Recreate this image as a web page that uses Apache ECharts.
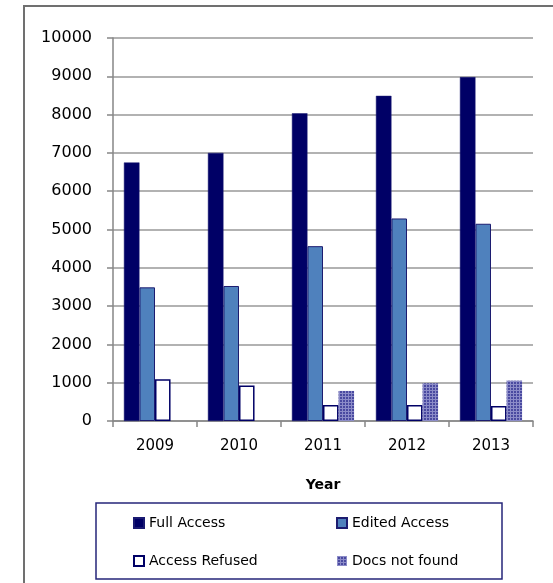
<!DOCTYPE html>
<html>
<head>
<meta charset="utf-8">
<style>
  html, body { margin: 0; padding: 0; background: #fff; }
  #chart { width: 553px; height: 583px; }
</style>
<script src="https://cdn.jsdelivr.net/npm/echarts@6/dist/echarts.min.js"></script>
</head>
<body>
<div id="chart"></div>
<script>
const years = ['2009', '2010', '2011', '2012', '2013'];
const fullAccess = [6750, 7000, 8035, 8490, 8980];
const editedAccess = [3490, 3525, 4565, 5288, 5150];
const accessRefused = [1090, 925, 420, 420, 390];
const docsNotFound = [null, null, 785, 985, 1055];
const yTicks = { min: 0, max: 10000, interval: 1000 };

// hatched pattern for "Docs not found"
const pc = document.createElement('canvas');
pc.width = 3; pc.height = 3;
const pctx = pc.getContext('2d');
pctx.fillStyle = '#4a4aa0';
pctx.fillRect(0, 0, 3, 3);
pctx.fillStyle = '#8c8cc8';
pctx.fillRect(0, 0, 3, 1);
pctx.fillRect(0, 0, 1, 3);

const chart = echarts.init(document.getElementById('chart'), null, { renderer: 'canvas' });
const FONT = 'DejaVu Sans';

chart.setOption({
  animation: false,
  backgroundColor: '#fff',
  textStyle: { fontFamily: FONT },
  grid: { left: 113, right: 20, top: 38, bottom: 162, containLabel: false },
  xAxis: {
    type: 'category',
    data: years,
    name: 'Year',
    nameLocation: 'middle',
    nameGap: 57,
    nameTextStyle: { fontFamily: FONT, fontSize: 14, fontWeight: 'bold', color: '#000' },
    axisLine: { show: true, lineStyle: { color: '#868686', width: 1.5 } },
    axisTick: { show: true, alignWithLabel: false, length: 6, lineStyle: { color: '#868686', width: 1.5 } },
    axisLabel: { fontFamily: FONT, fontSize: 15, color: '#000', margin: 18 },
    splitLine: { show: false }
  },
  yAxis: {
    type: 'value',
    min: yTicks.min,
    max: yTicks.max,
    interval: yTicks.interval,
    axisLine: { show: true, lineStyle: { color: '#868686', width: 1.5 } },
    axisTick: { show: true, inside: false, length: 6, lineStyle: { color: '#868686', width: 1.5 } },
    axisLabel: { fontFamily: FONT, fontSize: 16, color: '#000', margin: 21, formatter: v => String(v) },
    splitLine: { show: true, lineStyle: { color: '#999999', width: 1.5 } }
  },
  legend: [
    {
      data: ['Full Access', 'Access Refused'],
      orient: 'vertical',
      left: 128,
      top: 511,
      itemWidth: 10,
      itemHeight: 10,
      itemGap: 24,
      icon: 'rect',
      textStyle: { fontFamily: FONT, fontSize: 14, color: '#000' }
    },
    {
      data: ['Edited Access', 'Docs not found'],
      orient: 'vertical',
      left: 331,
      top: 511,
      itemWidth: 10,
      itemHeight: 10,
      itemGap: 24,
      icon: 'rect',
      textStyle: { fontFamily: FONT, fontSize: 14, color: '#000' }
    }
  ],
  graphic: [
    {
      type: 'rect',
      silent: true,
      shape: { x: 24, y: 6, width: 700, height: 700 },
      style: { fill: 'none', stroke: '#707070', lineWidth: 2 }
    },
    {
      type: 'rect',
      silent: true,
      shape: { x: 96, y: 503, width: 406, height: 76 },
      style: { fill: 'none', stroke: '#26267a', lineWidth: 1.5 }
    }
  ],
  series: [
    {
      name: 'Full Access', type: 'bar', data: fullAccess,
      barGap: '0%', barCategoryGap: '26%',
      itemStyle: { color: '#000066', borderColor: '#1a1a72', borderWidth: 0.5 }
    },
    {
      name: 'Edited Access', type: 'bar', data: editedAccess,
      itemStyle: { color: '#4f81bd', borderColor: '#1c1c70', borderWidth: 1 }
    },
    {
      name: 'Access Refused', type: 'bar', data: accessRefused,
      itemStyle: { color: '#ffffff', borderColor: '#000066', borderWidth: 1.5 }
    },
    {
      name: 'Docs not found', type: 'bar', data: docsNotFound,
      itemStyle: { color: { image: pc, repeat: 'repeat' }, borderWidth: 0 }
    }
  ]
});
</script>
</body>
</html>
